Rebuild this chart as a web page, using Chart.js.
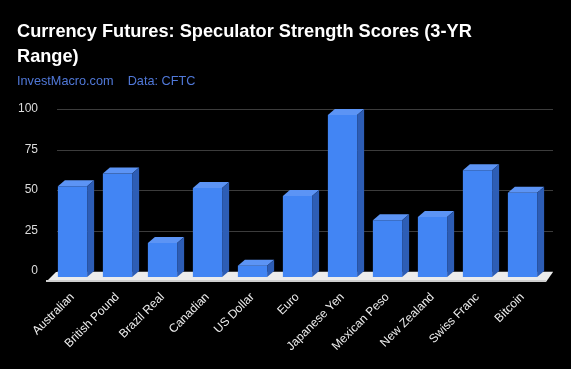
<!DOCTYPE html>
<html>
<head>
<meta charset="utf-8">
<script src="https://cdn.jsdelivr.net/npm/chart.js@4"></script>
<style>
  html, body { margin: 0; padding: 0; background: #000; }
  #wrap { width: 571px; height: 369px; }
</style>
</head>
<body>
<div id="wrap"><canvas id="scoreChart" width="571" height="369"></canvas></div>
<script>
const currencies = ["Australian", "British Pound", "Brazil Real", "Canadian", "US Dollar", "Euro",
  "Japanese Yen", "Mexican Peso", "New Zealand", "Swiss Franc", "Bitcoin"];
const strengthScores = [56, 64, 21, 55, 7, 50, 100, 35, 37, 66, 52];
const yTicks = [0, 25, 50, 75, 100];

const DX = 7;   // depth offset to the right
const DY = 6;   // depth offset upwards

// draws the floor and the back-wall grid lines
const backWall = {
  id: "backWall",
  beforeDatasetsDraw(chart) {
    const { ctx, chartArea } = chart;
    const yScale = chart.scales.y;
    const L = chartArea.left, R = chartArea.right, B = chartArea.bottom;
    ctx.save();
    ctx.strokeStyle = "#3c3c3c";
    ctx.lineWidth = 1;
    yTicks.forEach(function (v) {
      const py = Math.round(yScale.getPixelForValue(v) - DY) + 0.5;
      ctx.beginPath();
      ctx.moveTo(L + DX, py);
      ctx.lineTo(R + DX + 1, py);
      ctx.stroke();
    });
    // floor
    ctx.fillStyle = "#ececec";
    ctx.beginPath();
    ctx.moveTo(L + 6, B - 5);
    ctx.lineTo(R + DX + 1, B - 5);
    ctx.lineTo(R + 1, B + 5);
    ctx.lineTo(L - 4, B + 5);
    ctx.closePath();
    ctx.fill();
    ctx.fillStyle = "#cfcfcf";
    ctx.fillRect(L - 4, B + 3, R - L + 5, 2);
    ctx.restore();
  }
};

// adds top and side faces to each bar
const bars3d = {
  id: "bars3d",
  afterDatasetsDraw(chart) {
    const { ctx } = chart;
    const meta = chart.getDatasetMeta(0);
    ctx.save();
    meta.data.forEach(function (bar) {
      const l = bar.x - bar.width / 2;
      const r = bar.x + bar.width / 2;
      const t = bar.y;
      const b = bar.base;
      ctx.fillStyle = "#5c94f5";
      ctx.beginPath();
      ctx.moveTo(l, t);
      ctx.lineTo(l + DX, t - DY);
      ctx.lineTo(r + DX, t - DY);
      ctx.lineTo(r, t);
      ctx.closePath();
      ctx.fill();
      ctx.fillStyle = "#2d5db5";
      ctx.beginPath();
      ctx.moveTo(r, t);
      ctx.lineTo(r + DX, t - DY);
      ctx.lineTo(r + DX, b - DY);
      ctx.lineTo(r, b);
      ctx.closePath();
      ctx.fill();
    });
    ctx.restore();
  }
};

Chart.defaults.font.family = "'Liberation Sans', Arial, sans-serif";

new Chart(document.getElementById("scoreChart"), {
  type: "bar",
  data: {
    labels: currencies,
    datasets: [{
      label: "Strength Score",
      data: strengthScores,
      backgroundColor: "#4285f4",
      borderWidth: 0,
      categoryPercentage: 0.65,
      barPercentage: 1.0
    }]
  },
  options: {
    responsive: false,
    animation: false,
    layout: { padding: { left: 17, right: 26, top: 0, bottom: 0 } },
    plugins: {
      legend: { display: false },
      tooltip: { enabled: false },
      title: {
        display: true,
        text: ["Currency Futures: Speculator Strength Scores (3-YR", "Range)"],
        align: "start",
        color: "#ffffff",
        font: { size: 18.2, weight: "bold", lineHeight: 1.37 },
        padding: { top: 20, bottom: 4 }
      },
      subtitle: {
        display: true,
        text: "InvestMacro.com    Data: CFTC",
        align: "start",
        color: "#5078d8",
        font: { size: 12.7, lineHeight: 1.2 },
        padding: { top: 0, bottom: 26 }
      }
    },
    scales: {
      x: {
        grid: { display: false, drawTicks: false },
        border: { display: false },
        ticks: {
          color: "#eeeeee",
          font: { size: 12 },
          minRotation: 45,
          maxRotation: 45,
          autoSkip: false,
          padding: 13
        },
        afterFit(scale) {
          scale.paddingLeft = 0;
          scale.paddingRight = 0;
          scale.height = 92;
        }
      },
      y: {
        min: 0,
        max: 100,
        grid: { display: false, drawTicks: false },
        border: { display: false },
        ticks: {
          stepSize: 25,
          color: "#dddddd",
          font: { size: 12 },
          padding: 12,
          labelOffset: -DY
        },
        afterFit(scale) {
          scale.width = 33;
        }
      }
    }
  },
  plugins: [backWall, bars3d]
});
</script>
</body>
</html>
